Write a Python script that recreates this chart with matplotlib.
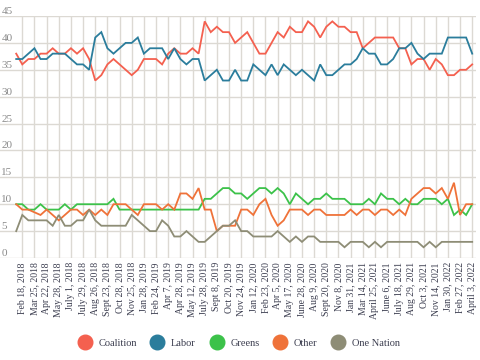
import numpy as np
import matplotlib
matplotlib.use("Agg")
import matplotlib.pyplot as plt
from matplotlib.lines import Line2D

plt.rcParams['font.family'] = ['Liberation Serif', 'DejaVu Serif']

date_labels = ["Feb 18, 2018", "Mar 25, 2018", "Apr 22, 2018", "May 28, 2018", "July 1, 2018",
               "July 29, 2018", "Aug 26, 2018", "Sept 23, 2018", "Oct 28, 2018", "Nov 25, 2018",
               "Jan 28, 2019", "Feb 24, 2019", "Apr 7, 2019", "Apr 28, 2019", "May 12, 2019",
               "July 28, 2019", "Sept 8, 2019", "Oct 20, 2019", "Nov 24, 2019", "Jan 12, 2020",
               "Feb 23, 2020", "Apr 5, 2020", "May 17, 2020", "June 28, 2020", "Aug 9, 2020",
               "Sept 20, 2020", "Nov 8, 2020", "Jan 31, 2021", "Mar 14, 2021", "April 25, 2021",
               "June 6, 2021", "July 18, 2021", "Aug 29, 2021", "Oct 3, 2021", "Nov 14, 2021",
               "Jan 30, 2022", "Feb 27, 2022", "April 3, 2022"]

coalition = [38, 36, 37, 37, 38, 38, 39, 38, 38, 39, 38, 39, 37, 33, 34, 36, 37, 36, 35, 34,
             35, 37, 37, 37, 36, 38, 39, 38, 38, 39, 38, 44, 42, 43, 42, 42, 40, 41, 42, 40,
             38, 38, 40, 42, 41, 43, 42, 42, 44, 43, 41, 43, 44, 43, 43, 42, 42, 39, 40, 41,
             41, 41, 41, 39, 39, 36, 37, 37, 35, 37, 36, 34, 34, 35, 35, 36]
labor = [37, 37, 38, 39, 37, 37, 38, 38, 38, 37, 36, 36, 35, 41, 42, 39, 38, 39, 40, 40,
         41, 38, 39, 39, 39, 37, 39, 37, 36, 37, 37, 33, 34, 35, 33, 33, 35, 33, 33, 36,
         35, 34, 36, 34, 36, 35, 34, 35, 34, 33, 36, 34, 34, 35, 36, 36, 37, 39, 38, 38,
         36, 36, 37, 39, 39, 40, 38, 37, 38, 38, 38, 41, 41, 41, 41, 38]
greens = [10, 10, 9, 9, 10, 9, 9, 9, 10, 9, 10, 10, 10, 10, 10, 10, 11, 9, 9, 9,
          9, 9, 9, 9, 9, 9, 9, 9, 9, 9, 9, 11, 11, 12, 13, 13, 12, 12, 11, 12,
          13, 13, 12, 13, 12, 10, 12, 11, 10, 11, 11, 12, 11, 11, 11, 10, 10, 10, 11, 10,
          12, 11, 11, 10, 11, 10, 10, 11, 11, 11, 10, 11, 8, 9, 8, 10]
other = [10, 9, 9, 8.5, 8, 9, 8, 7, 8, 9, 9, 8, 9, 8, 9, 8, 10, 10, 10, 9,
         8, 10, 10, 10, 9, 10, 9, 12, 12, 11, 13, 9, 9, 5, 6, 6, 6, 9, 9, 8,
         10, 11, 8, 6, 7, 9, 9, 9, 8, 9, 9, 8, 8, 8, 8, 9, 8, 9, 9, 8,
         9, 9, 8, 9, 8, 11, 12, 13, 13, 12, 13, 11, 14, 8, 10, 10]
one_nation = [5, 8, 7, 7, 7, 7, 6, 8, 6, 6, 7, 7, 9, 7, 6, 6, 6, 6, 6, 8,
              7, 6, 5, 5, 7, 6, 4, 4, 5, 4, 3, 3, 4, 5, 6, 6, 7, 5, 5, 4,
              4, 4, 4, 5, 4, 3, 4, 3, 4, 4, 3, 3, 3, 3, 2, 3, 3, 3, 2, 3,
              2, 3, 3, 3, 3, 3, 3, 2, 3, 2, 3, 3, 3, 3, 3, 3]

series = [("Coalition", coalition, "#f4604f"),
          ("Labor", labor, "#2b7d9c"),
          ("Greens", greens, "#3cc24a"),
          ("Other", other, "#ef7239"),
          ("One Nation", one_nation, "#8e8d76")]

n = len(coalition)
x = np.arange(n)

fig = plt.figure(figsize=(4.8, 3.6), dpi=100)
W, H = 480, 360
x0_px, step_px = 16.2, 6.08
ax_left_px, ax_right_px = 0, 476
ax_top_px, ax_bot_px = 16, 258
ax = fig.add_axes([ax_left_px / W, 1 - ax_bot_px / H,
                   (ax_right_px - ax_left_px) / W, (ax_bot_px - ax_top_px) / H])
ax.set_xlim((ax_left_px - x0_px) / step_px, (ax_right_px - x0_px) / step_px)
ax.set_ylim(0, 45)

grid_c = "#dcd9d3"
tick_pos = x[1::2]
ax.set_xticks(tick_pos)
ax.set_xticklabels(date_labels, rotation=90, fontsize=7, color="#3b3d4f", va="top")
ax.set_yticks(np.arange(0, 50, 5))
ax.set_yticklabels([str(v) for v in range(0, 50, 5)], fontsize=8, color="#8a8a8a")
for lab in ax.get_yticklabels():
    lab.set_ha("left")
    lab.set_va("bottom")
ax.tick_params(axis="y", length=0, pad=-1)
ax.tick_params(axis="x", length=0, pad=3)
ax.grid(True, color=grid_c, linewidth=1.0)
ax.set_axisbelow(True)
for s in ax.spines.values():
    s.set_visible(False)

for name, vals, col in series:
    ax.plot(x, vals, color=col, linewidth=1.3, solid_joinstyle="miter", zorder=3)

handles = [Line2D([], [], marker="o", linestyle="none", markersize=10.5,
                  markerfacecolor=col, markeredgecolor=col) for _, _, col in series]
fig.legend(handles, [s[0] for s in series], loc="center", bbox_to_anchor=(237 / W, 1 - 343 / H),
           ncol=5, frameon=False, fontsize=7.5, handletextpad=0.3, columnspacing=1.0,
           labelcolor="#3b3d4f")

fig.savefig("out.png", dpi=100)
